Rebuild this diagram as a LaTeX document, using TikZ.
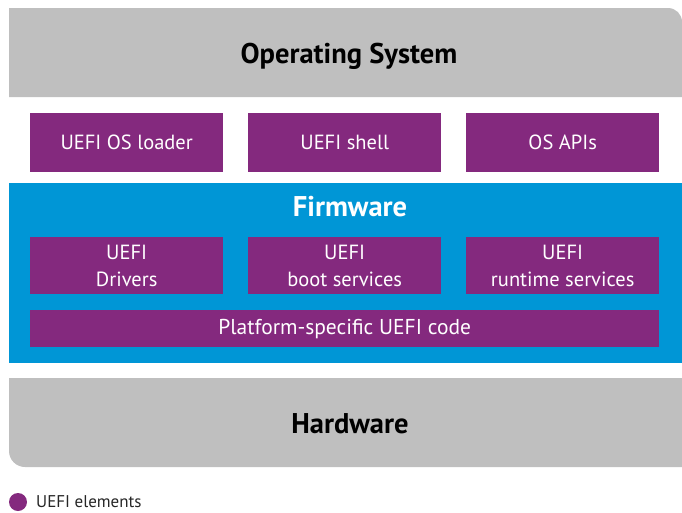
\documentclass[tikz,border=0pt]{standalone}
\usepackage{fontspec}
\setmainfont{PT Sans}
\definecolor{uefipurple}{HTML}{84297E}
\definecolor{fwblue}{HTML}{0096D6}
\definecolor{layergray}{HTML}{BFBFBF}

\begin{document}
\begin{tikzpicture}[
  x=1pt, y=-1pt,
  every node/.style={font=\fontsize{20.5}{27}\selectfont, align=center, inner sep=0pt},
  uefibox/.style={fill=uefipurple, text=white, anchor=north west,
    minimum width=193pt, minimum height=59pt},
  layertitle/.style={font=\fontsize{28.5}{30}\selectfont\bfseries, anchor=base}
]
\useasboundingbox (0,0) rectangle (682,512);

% Layers
\fill[layergray] (9,97) -- (9,8) [rounded corners=14pt] -- (682,8) [sharp corners] -- (682,97) -- cycle;
\fill[fwblue] (9,183) rectangle (682,363);
\fill[layergray] (682,378) -- (9,378) [rounded corners=16pt] -- (9,467) [sharp corners] -- (682,467) -- cycle;

\node[layertitle] (os) at (349,63) {Operating System};
\node[layertitle, text=white] (firmware) at (350,216) {Firmware};
\node[layertitle] (hardware) at (350,433) {Hardware};

% UEFI elements
\node[uefibox] (loader) at (30,113) {UEFI OS loader};
\node[uefibox] (shell) at (248,113) {UEFI shell};
\node[uefibox] (apis) at (466,113) {OS APIs};
\node[uefibox, minimum height=57pt] (drivers) at (30,237) {UEFI\\ Drivers};
\node[uefibox, minimum height=57pt] (boot) at (248,237) {UEFI\\ boot services};
\node[uefibox, minimum height=57pt] (runtime) at (466,237) {UEFI\\ runtime services};
\node[uefibox, minimum width=629pt, minimum height=37pt, font=\fontsize{21.5}{24}\selectfont] (platform) at (30,310) {Platform-specific UEFI code};

% Legend
\fill[uefipurple] (18,502) circle (9);
\node[anchor=west, font=\fontsize{17}{19}\selectfont, text=black!85] (legend) at (36,502) {UEFI elements};
\end{tikzpicture}
\end{document}
